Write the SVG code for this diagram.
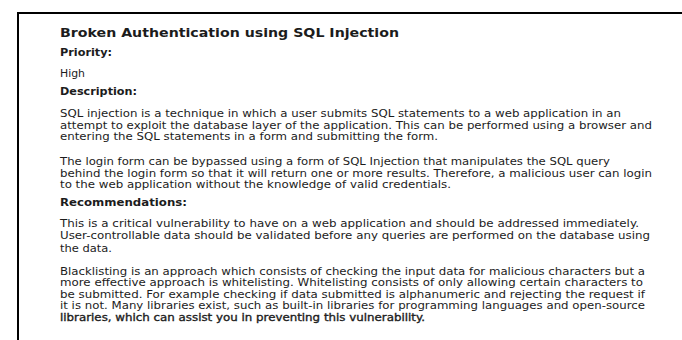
<svg xmlns="http://www.w3.org/2000/svg" width="682" height="340" viewBox="0 0 682 340">
<style>
text{font-family:"DejaVu Sans","Verdana",sans-serif;fill:#1c1c1c}
.b{font-size:10.7px}
.h{font-size:10.3px;font-weight:bold}
.t{font-size:12.3px;font-weight:bold}
.d{stroke:#1c1c1c;stroke-width:0.35}
</style>
<rect x="0" y="0" width="682" height="340" fill="#ffffff"/>
<g id="frame"><path d="M18,340 L18,13 L684,13" fill="none" stroke="#000" stroke-width="2"/></g>
<g id="title"><text class="t" x="60" y="37" textLength="339" lengthAdjust="spacingAndGlyphs">Broken Authentication using SQL Injection</text></g>
<g id="priority">
<text class="h" x="60" y="56" textLength="52" lengthAdjust="spacingAndGlyphs">Priority:</text>
<text class="b" x="60" y="76.7" textLength="25" lengthAdjust="spacingAndGlyphs">High</text>
</g>
<g id="description">
<text class="h" x="60" y="95" textLength="77" lengthAdjust="spacingAndGlyphs">Description:</text>
<text class="b" x="60" y="116.7" textLength="561" lengthAdjust="spacingAndGlyphs">SQL injection is a technique in which a user submits SQL statements to a web application in an</text>
<text class="b" x="60" y="128.5" textLength="592" lengthAdjust="spacingAndGlyphs">attempt to exploit the database layer of the application. This can be performed using a browser and</text>
<text class="b" x="60" y="140.2" textLength="378" lengthAdjust="spacingAndGlyphs">entering the SQL statements in a form and submitting the form.</text>
<text class="b" x="60" y="165" textLength="550" lengthAdjust="spacingAndGlyphs">The login form can be bypassed using a form of SQL Injection that manipulates the SQL query</text>
<text class="b" x="60" y="176.5" textLength="592" lengthAdjust="spacingAndGlyphs">behind the login form so that it will return one or more results. Therefore, a malicious user can login</text>
<text class="b" x="60" y="188" textLength="391" lengthAdjust="spacingAndGlyphs">to the web application without the knowledge of valid credentials.</text>
</g>
<g id="recommendations">
<text class="h" x="60" y="205.7" textLength="127" lengthAdjust="spacingAndGlyphs">Recommendations:</text>
<text class="b" x="60" y="227" textLength="579" lengthAdjust="spacingAndGlyphs">This is a critical vulnerability to have on a web application and should be addressed immediately.</text>
<text class="b" x="60" y="238.8" textLength="590" lengthAdjust="spacingAndGlyphs">User-controllable data should be validated before any queries are performed on the database using</text>
<text class="b" x="60" y="251.5" textLength="52" lengthAdjust="spacingAndGlyphs">the data.</text>
<text class="b" x="60" y="274.5" textLength="585" lengthAdjust="spacingAndGlyphs">Blacklisting is an approach which consists of checking the input data for malicious characters but a</text>
<text class="b" x="60" y="286" textLength="583" lengthAdjust="spacingAndGlyphs">more effective approach is whitelisting. Whitelisting consists of only allowing certain characters to</text>
<text class="b" x="60" y="297.5" textLength="585" lengthAdjust="spacingAndGlyphs">be submitted. For example checking if data submitted is alphanumeric and rejecting the request if</text>
<text class="b" x="60" y="309" textLength="585" lengthAdjust="spacingAndGlyphs">it is not. Many libraries exist, such as built-in libraries for programming languages and open-source</text>
<text class="b d" x="60" y="320.5" textLength="365" lengthAdjust="spacingAndGlyphs">libraries, which can assist you in preventing this vulnerability.</text>
</g>
</svg>
